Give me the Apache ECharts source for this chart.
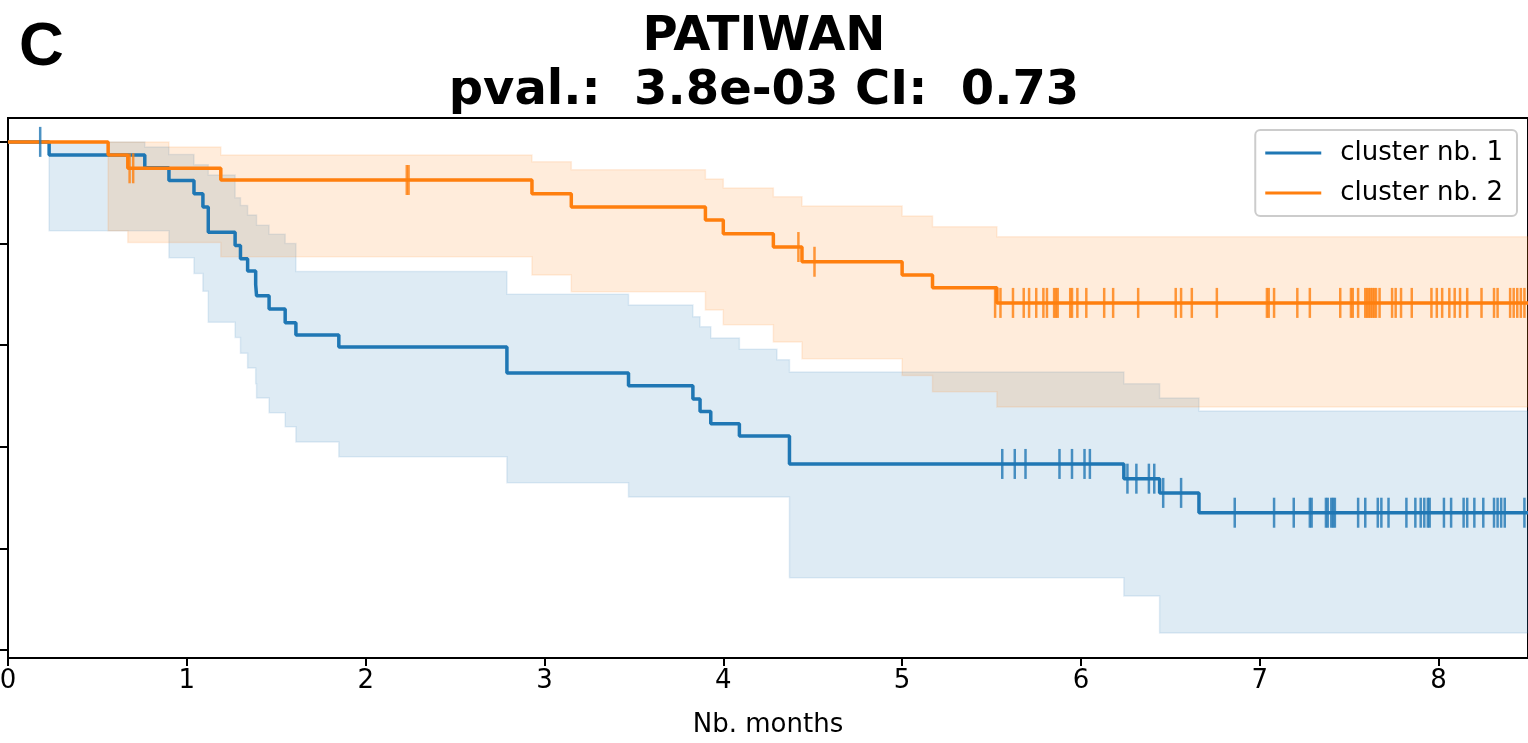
<!DOCTYPE html>
<html>
<head>
<meta charset="utf-8">
<script src="https://cdn.jsdelivr.net/npm/echarts@6/dist/echarts.min.js"></script>
<style>html,body{margin:0;padding:0;background:#fff}#chart{width:1528px;height:743px}</style>
</head>
<body>
<div id="chart"></div>
<script>
// step curves: value holds from t[i] until t[i+1]
var blueT = [0, 0.23, 0.765, 0.90, 1.04, 1.09, 1.12, 1.27, 1.30, 1.34, 1.385, 1.39, 1.46, 1.55, 1.61, 1.85, 2.79, 3.47, 3.83, 3.87, 3.93, 4.09, 4.37, 6.24, 6.44, 6.66, 8.5];
var blueS = [1.0, 0.974, 0.949, 0.924, 0.898, 0.872, 0.822, 0.796, 0.770, 0.746, 0.719, 0.697, 0.671, 0.644, 0.620, 0.596, 0.545, 0.520, 0.494, 0.469, 0.445, 0.421, 0.366, 0.337, 0.309, 0.270, 0.270];
var blueHiT = [0, 0.765, 0.90, 1.04, 1.12, 1.27, 1.30, 1.34, 1.39, 1.46, 1.55, 1.61, 2.79, 3.47, 3.83, 3.87, 3.93, 4.09, 4.30, 4.37, 6.24, 6.44, 6.66, 8.5];
var blueHiV = [1.0, 0.99, 0.975, 0.955, 0.935, 0.89, 0.875, 0.856, 0.836, 0.818, 0.80, 0.745, 0.70, 0.679, 0.656, 0.636, 0.614, 0.592, 0.571, 0.547, 0.524, 0.496, 0.47, 0.47];
var blueLoT = [0, 0.23, 0.90, 1.04, 1.09, 1.12, 1.27, 1.30, 1.34, 1.385, 1.39, 1.46, 1.55, 1.61, 1.85, 2.79, 3.47, 4.37, 6.24, 6.44, 8.5];
var blueLoV = [1.0, 0.825, 0.772, 0.741, 0.706, 0.645, 0.615, 0.584, 0.555, 0.524, 0.496, 0.467, 0.439, 0.409, 0.380, 0.329, 0.301, 0.142, 0.106, 0.033, 0.033];
var blueCens = [0.18, 5.56, 5.63, 5.69, 5.88, 5.95, 6.02, 6.05, 6.26, 6.31, 6.38, 6.41, 6.46, 6.56,
  6.86, 7.08, 7.19, 7.28, 7.29, 7.37, 7.38, 7.40, 7.41, 7.42, 7.55, 7.59, 7.66, 7.68, 7.72, 7.82, 7.87, 7.90, 7.92, 7.94, 7.95, 8.03, 8.07, 8.14, 8.16, 8.20, 8.25, 8.31, 8.33, 8.35, 8.37, 8.48];
var blueCensV = [1.0, 0.366, 0.366, 0.366, 0.366, 0.366, 0.366, 0.366, 0.337, 0.337, 0.337, 0.337, 0.309, 0.309,
  0.27, 0.27, 0.27, 0.27, 0.27, 0.27, 0.27, 0.27, 0.27, 0.27, 0.27, 0.27, 0.27, 0.27, 0.27, 0.27, 0.27, 0.27, 0.27, 0.27, 0.27, 0.27, 0.27, 0.27, 0.27, 0.27, 0.27, 0.27, 0.27, 0.27, 0.27, 0.27];

var orangeT = [0, 0.56, 0.67, 1.19, 2.93, 3.15, 3.90, 4.00, 4.28, 4.44, 5.00, 5.17, 5.53, 8.5];
var orangeS = [1.0, 0.974, 0.948, 0.925, 0.898, 0.872, 0.846, 0.819, 0.793, 0.764, 0.738, 0.713, 0.683, 0.683];
var orangeHiT = [0, 0.90, 1.19, 2.93, 3.15, 3.90, 4.00, 4.28, 4.44, 5.00, 5.17, 5.53, 8.5];
var orangeHiV = [1.0, 0.99, 0.974, 0.961, 0.945, 0.927, 0.909, 0.892, 0.874, 0.854, 0.833, 0.813, 0.813];
var orangeLoT = [0, 0.56, 0.67, 1.19, 2.93, 3.15, 3.90, 4.00, 4.28, 4.44, 5.00, 5.17, 5.53, 8.5];
var orangeLoV = [1.0, 0.825, 0.802, 0.774, 0.738, 0.705, 0.669, 0.640, 0.606, 0.573, 0.540, 0.508, 0.478, 0.478];
var orangeCens = [0.68, 0.70, 2.23, 2.24, 4.42, 4.51,
  5.52, 5.55, 5.62, 5.68, 5.71, 5.75, 5.79, 5.81, 5.85, 5.86, 5.87, 5.94, 5.95, 5.98, 6.03, 6.13, 6.18, 6.32, 6.53, 6.56, 6.62, 6.76, 7.04, 7.05, 7.08, 7.21, 7.28, 7.45, 7.51, 7.52, 7.55, 7.59, 7.60, 7.61, 7.62, 7.63, 7.64, 7.65, 7.67, 7.74, 7.76, 7.79, 7.85, 7.96, 7.99, 8.02, 8.06, 8.09, 8.12, 8.16, 8.24, 8.31, 8.33, 8.40, 8.42, 8.44, 8.46, 8.48];
var orangeCensV = [0.948, 0.948, 0.925, 0.925, 0.793, 0.764];
for (var k = orangeCensV.length; k < orangeCens.length; k++) orangeCensV.push(0.683);

var xTicks = [0, 1, 2, 3, 4, 5, 6, 7, 8];
var yTicks = [0, 0.2, 0.4, 0.6, 0.8, 1.0];

var BLUE = '#1f77b4', ORANGE = '#ff7f0e';

function pairs(t, v) {
    var out = [];
    for (var i = 0; i < t.length; i++) out.push([t[i], v[i]]);
    return out;
}

function band(hiT, hiV, loT, loV, fill, edge) {
    return {
        type: 'custom',
        silent: true,
        z: 1,
        data: [0],
        renderItem: function(params, api) {
            var pts = [];
            for (var i = 0; i < hiT.length - 1; i++) {
                pts.push(api.coord([hiT[i], hiV[i]]));
                pts.push(api.coord([hiT[i + 1], hiV[i]]));
            }
            for (var j = loT.length - 2; j >= 0; j--) {
                pts.push(api.coord([loT[j + 1], loV[j]]));
                pts.push(api.coord([loT[j], loV[j]]));
            }
            return {
                type: 'polygon',
                shape: { points: pts },
                style: { fill: fill, stroke: edge, lineWidth: 1.5 }
            };
        }
    };
}

function cens(t, v, color) {
    return {
        type: 'scatter',
        silent: true,
        z: 4,
        symbol: 'rect',
        symbolSize: [2.5, 30],
        itemStyle: { color: color },
        data: pairs(t, v)
    };
}

var chart = echarts.init(document.getElementById('chart'));
chart.setOption({
    animation: false,
    title: [
        { text: 'PATIWAN\npval.:  3.8e-03 CI:  0.73', left: 'center', top: 6,
          textStyle: { fontFamily: 'DejaVu Sans', fontSize: 48, fontWeight: 'bold', color: '#000', lineHeight: 54 } },
        { text: 'C', left: 14, top: 12,
          textStyle: { fontFamily: 'Liberation Sans', fontSize: 62, fontWeight: 'bold', color: '#000' } }
    ],
    legend: {
        right: 11, top: 130, orient: 'vertical',
        itemWidth: 56, itemHeight: 3, itemGap: 14,
        padding: [10, 14, 10, 10],
        borderColor: '#ccc', borderWidth: 2, borderRadius: 5,
        icon: 'rect',
        textStyle: { fontFamily: 'DejaVu Sans', fontSize: 26, color: '#000', padding: [0, 0, 0, 14] },
        data: ['cluster nb. 1', 'cluster nb. 2']
    },
    grid: { left: 8, right: 0, top: 118, bottom: 85, show: true, borderColor: '#000', borderWidth: 2,
        outerBoundsMode: 'none', containLabel: false },
    xAxis: {
        type: 'value', min: 0, max: 8.5, interval: 1,
        name: 'Nb. months', nameLocation: 'middle', nameGap: 54,
        nameTextStyle: { fontFamily: 'DejaVu Sans', fontSize: 26, color: '#000' },
        axisLine: { onZero: false, lineStyle: { color: '#000', width: 2 } },
        axisTick: { length: 8, customValues: xTicks, lineStyle: { color: '#000', width: 2 } },
        axisLabel: { fontFamily: 'DejaVu Sans', fontSize: 26, color: '#000', margin: 10, customValues: xTicks },
        splitLine: { show: false }
    },
    yAxis: {
        type: 'value', min: -0.016, max: 1.047,
        axisLine: { lineStyle: { color: '#000', width: 2 } },
        axisTick: { show: true, length: 8, customValues: yTicks, lineStyle: { color: '#000', width: 2 } },
        axisLabel: { show: false },
        splitLine: { show: false }
    },
    series: [
        band(blueHiT, blueHiV, blueLoT, blueLoV, 'rgba(31,119,180,0.15)', 'rgba(31,119,180,0.12)'),
        band(orangeHiT, orangeHiV, orangeLoT, orangeLoV, 'rgba(255,127,14,0.15)', 'rgba(255,127,14,0.12)'),
        { name: 'cluster nb. 1', type: 'line', step: 'end', showSymbol: false, z: 3,
          color: BLUE, lineStyle: { width: 3.5, color: BLUE }, data: pairs(blueT, blueS) },
        { name: 'cluster nb. 2', type: 'line', step: 'end', showSymbol: false, z: 3,
          color: ORANGE, lineStyle: { width: 3.5, color: ORANGE }, data: pairs(orangeT, orangeS) },
        cens(blueCens, blueCensV, BLUE),
        cens(orangeCens, orangeCensV, ORANGE)
    ]
});
</script>
</body>
</html>
